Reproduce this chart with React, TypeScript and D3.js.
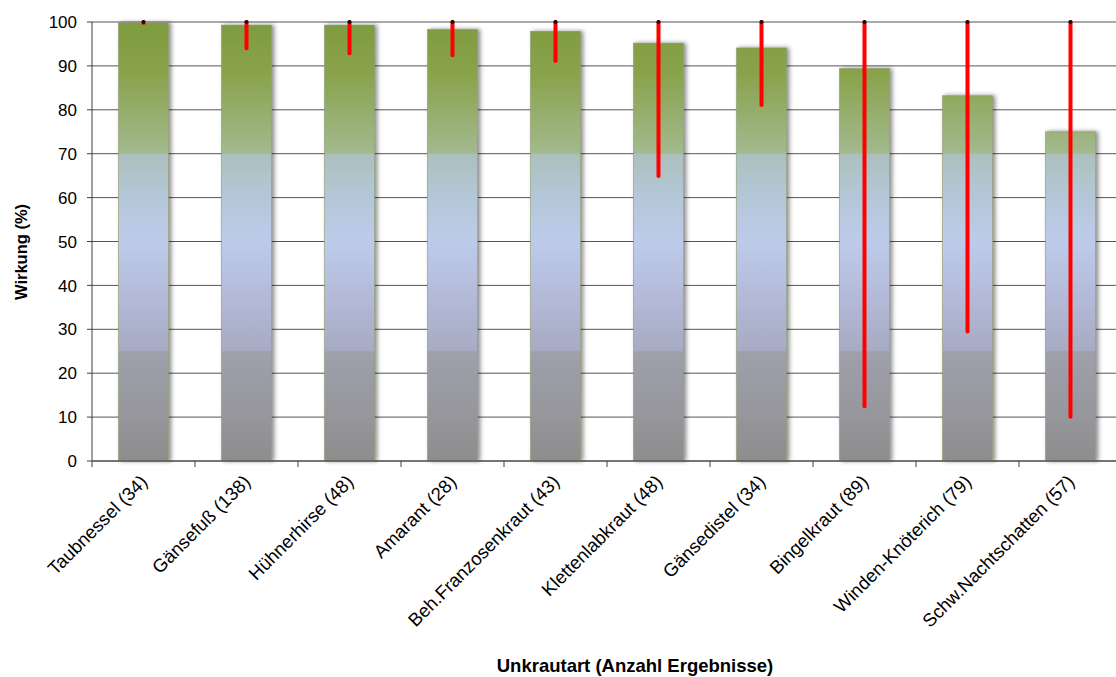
import React from "react";
import * as d3 from "d3";

const categories = [
  "Taubnessel (34)",
  "Gänsefuß (138)",
  "Hühnerhirse (48)",
  "Amarant (28)",
  "Beh.Franzosenkraut (43)",
  "Klettenlabkraut (48)",
  "Gänsedistel (34)",
  "Bingelkraut (89)",
  "Winden-Knöterich (79)",
  "Schw.Nachtschatten (57)",
];
const meanValues = [99.8, 99.3, 99.3, 98.3, 97.9, 95.2, 94.1, 89.4, 83.2, 75.0];
const minValues = [99.8, 94.0, 92.9, 92.4, 91.1, 64.9, 81.1, 12.5, 29.5, 10.1];
const maxValues = [100, 100, 100, 100, 100, 100, 100, 100, 100, 100];
const yTicks = [0, 10, 20, 30, 40, 50, 60, 70, 80, 90, 100];

const W = 1116;
const H = 677;
const left = 92;
const top = 22;
const bottom = 461;
const catWidth = 103;

export default function App() {
  const x = d3
    .scaleBand<string>()
    .domain(categories)
    .range([left, left + catWidth * categories.length])
    .paddingInner(0.515)
    .paddingOuter(0.2575);
  const xOuter = d3
    .scaleBand<string>()
    .domain(categories)
    .range([left, left + catWidth * categories.length]);
  const y = d3.scaleLinear().domain([0, 100]).range([bottom, top]);
  const font = "Arial, 'Liberation Sans', sans-serif";

  return (
    <svg
      width={W}
      height={H}
      style={{ position: "absolute", left: 0, top: 0, background: "#fff" }}
      fontFamily={font}
    >
      <defs>
        <linearGradient id="barGrad" gradientUnits="userSpaceOnUse" x1={0} x2={0} y1={y(100)} y2={y(0)}>
          <stop offset="0" stopColor="#7f9b3e" />
          <stop offset="0.12" stopColor="#89a34c" />
          <stop offset="0.299" stopColor="#a3b98f" />
          <stop offset="0.301" stopColor="#abc0bd" />
          <stop offset="0.4" stopColor="#b4c7d8" />
          <stop offset="0.5" stopColor="#bdcbea" />
          <stop offset="0.62" stopColor="#b4bbd9" />
          <stop offset="0.749" stopColor="#a7abc3" />
          <stop offset="0.751" stopColor="#9ea0ab" />
          <stop offset="0.9" stopColor="#96969b" />
          <stop offset="1" stopColor="#8d8d8d" />
        </linearGradient>
        <filter id="shadow" x="-20%" y="-5%" width="140%" height="110%">
          <feDropShadow dx="2.5" dy="0" stdDeviation="2" floodColor="#000" floodOpacity="0.45" />
        </filter>
      </defs>

      {/* gridlines */}
      {yTicks.map((t) => (
        <line key={"g" + t} x1={left} x2={W} y1={y(t)} y2={y(t)} stroke="#555" strokeWidth={1} />
      ))}

      {/* bars */}
      {categories.map((c, i) => (
        <rect
          key={"b" + c}
          x={x(c)}
          y={y(meanValues[i])}
          width={x.bandwidth()}
          height={y(0) - y(meanValues[i])}
          fill="url(#barGrad)"
          stroke="#8a9a70"
          strokeWidth={0.6}
          filter="url(#shadow)"
        />
      ))}

      {/* error ranges */}
      {categories.map((c, i) => {
        const cx = (x(c) as number) + x.bandwidth() / 2;
        return (
          <g key={"e" + c}>
            <line x1={cx} x2={cx} y1={y(minValues[i])} y2={y(maxValues[i])} stroke="#ff0000" strokeWidth={4} strokeLinecap="round" />
            <circle cx={cx} cy={y(maxValues[i])} r={2} fill="#111" />
          </g>
        );
      })}

      {/* axes */}
      <line x1={left} x2={left} y1={top} y2={bottom} stroke="#404040" strokeWidth={1} />
      <line x1={left} x2={W} y1={bottom} y2={bottom} stroke="#404040" strokeWidth={1} />
      {yTicks.map((t) => (
        <g key={"yt" + t}>
          <line x1={left - 5} x2={left} y1={y(t)} y2={y(t)} stroke="#404040" />
          <text x={77} y={y(t)} dy="0.36em" textAnchor="end" fontSize={17} fill="#000">
            {t}
          </text>
        </g>
      ))}
      {categories.map((c) => (
        <line
          key={"xt" + c}
          x1={xOuter(c)}
          x2={xOuter(c)}
          y1={bottom}
          y2={bottom + 6}
          stroke="#404040"
        />
      ))}
      {categories.map((c) => {
        const cx = (x(c) as number) + x.bandwidth() / 2 + 5;
        const ty = bottom + 22;
        return (
          <text
            key={"xl" + c}
            x={cx}
            y={ty}
            textAnchor="end"
            fontSize={18.5}
            fill="#000"
            transform={`rotate(-45, ${cx}, ${ty})`}
          >
            {c}
          </text>
        );
      })}

      {/* axis titles */}
      <text
        x={27}
        y={252}
        textAnchor="middle"
        fontSize={16.5}
        fontWeight="bold"
        transform="rotate(-90, 27, 252)"
      >
        Wirkung (%)
      </text>
      <text x={635} y={672} textAnchor="middle" fontSize={18.5} fontWeight="bold">
        Unkrautart (Anzahl Ergebnisse)
      </text>
    </svg>
  );
}
